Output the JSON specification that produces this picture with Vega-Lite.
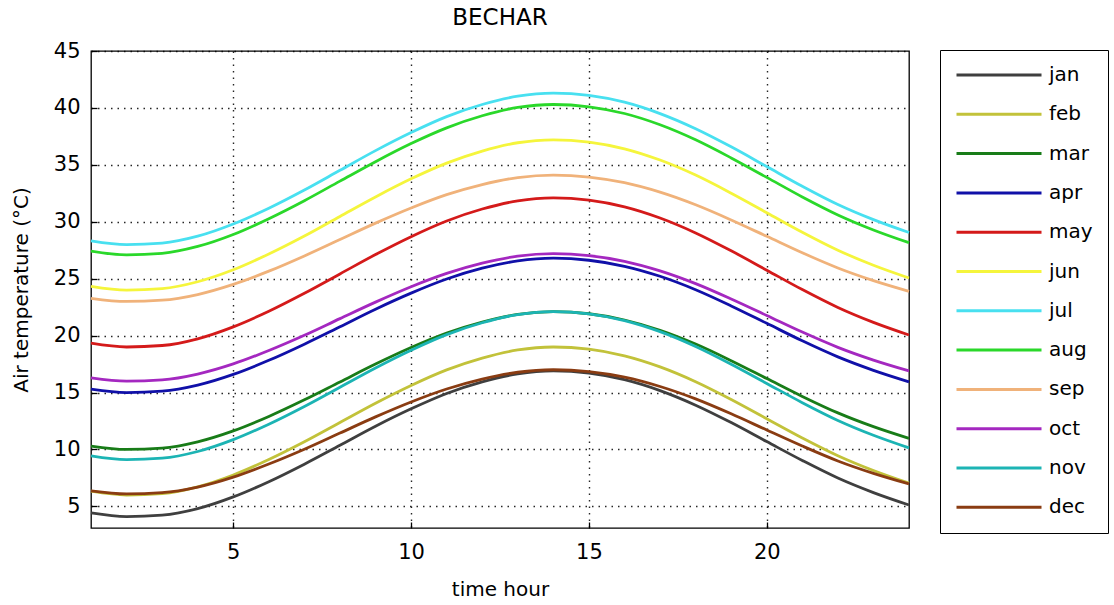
{
  "$schema": "https://vega.github.io/schema/vega-lite/v6.json",
  "autosize": "none",
  "width": 818,
  "height": 477,
  "padding": {"left": 91, "top": 51, "right": 205, "bottom": 77},
  "background": "white",
  "title": {"text": "BECHAR", "fontSize": 23, "fontWeight": "normal", "font": "DejaVu Sans", "color": "black", "offset": 10},
  "data": {"values": [
    {"hour": 1, "jan": 4.42, "feb": 6.33, "mar": 10.30, "apr": 15.30, "may": 19.33, "jun": 24.33, "jul": 28.33, "aug": 27.43, "sep": 23.28, "oct": 16.28, "nov": 9.43, "dec": 6.37},
    {"hour": 2, "jan": 4.10, "feb": 6.00, "mar": 10.00, "apr": 15.00, "may": 19.00, "jun": 24.00, "jul": 28.00, "aug": 27.10, "sep": 23.00, "oct": 16.00, "nov": 9.10, "dec": 6.10},
    {"hour": 3, "jan": 4.23, "feb": 6.13, "mar": 10.12, "apr": 15.12, "may": 19.13, "jun": 24.13, "jul": 28.13, "aug": 27.23, "sep": 23.11, "oct": 16.11, "nov": 9.23, "dec": 6.21},
    {"hour": 4, "jan": 4.80, "feb": 6.72, "mar": 10.67, "apr": 15.65, "may": 19.72, "jun": 24.73, "jul": 28.73, "aug": 27.83, "sep": 23.61, "oct": 16.62, "nov": 9.82, "dec": 6.70},
    {"hour": 5, "jan": 5.83, "feb": 7.76, "mar": 11.63, "apr": 16.59, "may": 20.77, "jun": 25.78, "jul": 29.80, "aug": 28.88, "sep": 24.50, "oct": 17.51, "nov": 10.86, "dec": 7.57},
    {"hour": 6, "jan": 7.17, "feb": 9.12, "mar": 12.90, "apr": 17.83, "may": 22.14, "jun": 27.17, "jul": 31.19, "aug": 30.27, "sep": 25.66, "oct": 18.69, "nov": 12.22, "dec": 8.72},
    {"hour": 7, "jan": 8.71, "feb": 10.68, "mar": 14.36, "apr": 19.25, "may": 23.72, "jun": 28.75, "jul": 32.79, "aug": 31.85, "sep": 27.00, "oct": 20.03, "nov": 13.78, "dec": 10.02},
    {"hour": 8, "jan": 10.37, "feb": 12.37, "mar": 15.93, "apr": 20.78, "may": 25.42, "jun": 30.47, "jul": 34.52, "aug": 33.57, "sep": 28.44, "oct": 21.49, "nov": 15.47, "dec": 11.44},
    {"hour": 9, "jan": 12.04, "feb": 14.06, "mar": 17.50, "apr": 22.32, "may": 27.12, "jun": 32.18, "jul": 36.25, "aug": 35.28, "sep": 29.88, "oct": 22.94, "nov": 17.16, "dec": 12.86},
    {"hour": 10, "jan": 13.57, "feb": 15.62, "mar": 18.95, "apr": 23.73, "may": 28.69, "jun": 33.77, "jul": 37.84, "aug": 36.87, "sep": 31.21, "oct": 24.29, "nov": 18.72, "dec": 14.17},
    {"hour": 11, "jan": 14.92, "feb": 16.99, "mar": 20.22, "apr": 24.97, "may": 30.07, "jun": 35.15, "jul": 39.24, "aug": 38.25, "sep": 32.38, "oct": 25.46, "nov": 20.09, "dec": 15.31},
    {"hour": 12, "jan": 15.94, "feb": 18.03, "mar": 21.19, "apr": 25.92, "may": 31.12, "jun": 36.21, "jul": 40.30, "aug": 39.31, "sep": 33.27, "oct": 26.36, "nov": 21.13, "dec": 16.18},
    {"hour": 13, "jan": 16.64, "feb": 18.74, "mar": 21.86, "apr": 26.56, "may": 31.84, "jun": 36.94, "jul": 41.03, "aug": 40.04, "sep": 33.88, "oct": 26.98, "nov": 21.84, "dec": 16.78},
    {"hour": 14, "jan": 16.90, "feb": 19.00, "mar": 22.10, "apr": 26.80, "may": 32.10, "jun": 37.20, "jul": 41.30, "aug": 40.30, "sep": 34.10, "oct": 27.20, "nov": 22.10, "dec": 17.00},
    {"hour": 15, "jan": 16.71, "feb": 18.81, "mar": 21.92, "apr": 26.62, "may": 31.90, "jun": 37.00, "jul": 41.10, "aug": 40.10, "sep": 33.93, "oct": 27.03, "nov": 21.91, "dec": 16.84},
    {"hour": 16, "jan": 16.13, "feb": 18.22, "mar": 21.37, "apr": 26.09, "may": 31.31, "jun": 36.41, "jul": 40.50, "aug": 39.51, "sep": 33.43, "oct": 26.53, "nov": 21.32, "dec": 16.35},
    {"hour": 17, "jan": 15.17, "feb": 17.25, "mar": 20.47, "apr": 25.21, "may": 30.33, "jun": 35.42, "jul": 39.50, "aug": 38.52, "sep": 32.60, "oct": 25.69, "nov": 20.35, "dec": 15.53},
    {"hour": 18, "jan": 13.89, "feb": 15.95, "mar": 19.26, "apr": 24.03, "may": 29.02, "jun": 34.10, "jul": 38.17, "aug": 37.20, "sep": 31.49, "oct": 24.57, "nov": 19.05, "dec": 14.44},
    {"hour": 19, "jan": 12.36, "feb": 14.39, "mar": 17.80, "apr": 22.61, "may": 27.45, "jun": 32.51, "jul": 36.58, "aug": 35.61, "sep": 30.16, "oct": 23.22, "nov": 17.49, "dec": 13.13},
    {"hour": 20, "jan": 10.69, "feb": 12.70, "mar": 16.23, "apr": 21.08, "may": 25.75, "jun": 30.80, "jul": 34.85, "aug": 33.90, "sep": 28.72, "oct": 21.77, "nov": 15.80, "dec": 11.71},
    {"hour": 21, "jan": 9.03, "feb": 11.01, "mar": 14.66, "apr": 19.54, "may": 24.04, "jun": 29.08, "jul": 33.12, "aug": 32.18, "sep": 27.27, "oct": 20.31, "nov": 14.11, "dec": 10.30},
    {"hour": 22, "jan": 7.49, "feb": 9.45, "mar": 13.21, "apr": 18.13, "may": 22.47, "jun": 27.50, "jul": 31.52, "aug": 30.60, "sep": 25.94, "oct": 18.97, "nov": 12.55, "dec": 8.99},
    {"hour": 23, "jan": 6.21, "feb": 8.15, "mar": 12.00, "apr": 16.95, "may": 21.16, "jun": 26.18, "jul": 30.19, "aug": 29.28, "sep": 24.83, "oct": 17.85, "nov": 11.25, "dec": 7.90},
    {"hour": 24, "jan": 5.12, "feb": 7.04, "mar": 10.97, "apr": 15.94, "may": 20.05, "jun": 25.06, "jul": 29.06, "aug": 28.16, "sep": 23.89, "oct": 16.90, "nov": 10.14, "dec": 6.97}
  ]},
  "transform": [
    {"fold": ["jan", "feb", "mar", "apr", "may", "jun", "jul", "aug", "sep", "oct", "nov", "dec"], "as": ["month", "temp"]}
  ],
  "mark": {"type": "line", "strokeWidth": 2.8, "interpolate": "monotone"},
  "encoding": {
    "x": {
      "field": "hour", "type": "quantitative",
      "scale": {"domain": [1, 24], "nice": false, "zero": false},
      "axis": {"title": "time hour", "values": [5, 10, 15, 20], "grid": true, "tickSize": -6, "labelPadding": 19, "titlePadding": 17}
    },
    "y": {
      "field": "temp", "type": "quantitative",
      "scale": {"domain": [3.1, 45], "nice": false, "zero": false},
      "axis": {"title": "Air temperature (°C)", "values": [5, 10, 15, 20, 25, 30, 35, 40, 45], "grid": true, "tickSize": -6, "labelPadding": 17, "titlePadding": 22}
    },
    "color": {
      "field": "month", "type": "nominal",
      "scale": {
        "domain": ["jan", "feb", "mar", "apr", "may", "jun", "jul", "aug", "sep", "oct", "nov", "dec"],
        "range": ["#3f3f3f", "#c2c23a", "#187c18", "#1010a8", "#d41a1a", "#f5f53c", "#48e0f0", "#2ad82a", "#f0b27a", "#a428c0", "#1cb4b4", "#8a3c12"]
      },
      "legend": {
        "title": null, "orient": "none", "legendX": 849, "legendY": -1,
        "strokeColor": "black", "fillColor": "white", "padding": 15,
        "symbolType": "M-1,0H9", "symbolSize": 289, "symbolStrokeWidth": 3,
        "labelFontSize": 20, "labelFont": "DejaVu Sans", "labelColor": "black",
        "labelOffset": 74, "rowPadding": 19.3
      }
    }
  },
  "config": {
    "view": {"stroke": "black", "strokeWidth": 1.3},
    "axis": {
      "domain": false,
      "gridColor": "black", "gridDash": [1.5, 5], "gridWidth": 1.4, "gridOpacity": 0.85,
      "tickColor": "black", "tickWidth": 1.3,
      "labelFont": "DejaVu Sans", "labelFontSize": 21, "labelColor": "black",
      "titleFont": "DejaVu Sans", "titleFontSize": 20, "titleFontWeight": "normal", "titleColor": "black"
    }
  }
}
